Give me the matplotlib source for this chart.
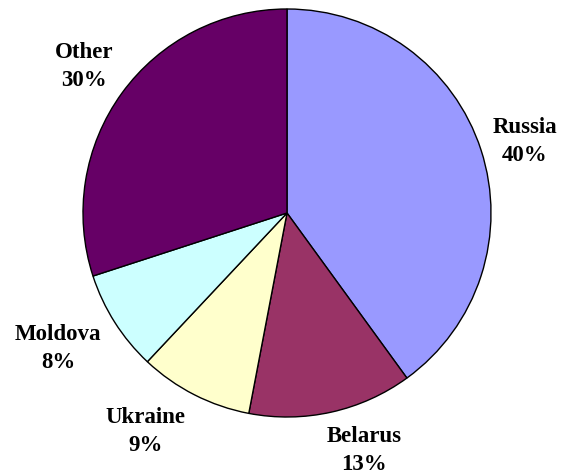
import numpy as np
import matplotlib.pyplot as plt

# Share of the total by country
countries = ["Russia", "Belarus", "Ukraine", "Moldova", "Other"]
shares = [40, 13, 9, 8, 30]
colors = ["#9999FF", "#993366", "#FFFFCC", "#CCFFFF", "#660066"]

labels = [f"{c}\n{s}%" for c, s in zip(countries, shares)]

# label placement: radial distance and angular nudge (degrees) per slice
label_dist = [1.22, 1.22, 1.27, 1.30, 1.23]
label_nudge = [-1, 5.5, -6, -2, 0]

plt.rcParams["font.family"] = ["Liberation Serif", "DejaVu Serif"]

fig = plt.figure(figsize=(5.63, 4.77), dpi=100)
r_px = 204
ax = fig.add_axes([(287 - r_px) / 563, 1 - (214 + r_px) / 477,
                   2 * r_px / 563, 2 * r_px / 477])

wedges, texts = ax.pie(shares, labels=labels, colors=colors, startangle=90,
                       counterclock=False,
                       wedgeprops=dict(edgecolor="black", linewidth=1.0),
                       textprops=dict(fontsize=16.5, fontweight="bold", ha="center",
                                      va="center", linespacing=1.45))
for w, t, d, n in zip(wedges, texts, label_dist, label_nudge):
    ang = np.deg2rad((w.theta1 + w.theta2) / 2 + n)
    t.set_position((d * np.cos(ang), d * np.sin(ang)))

ax.set_xlim(-1, 1)
ax.set_ylim(-1, 1)
ax.set_aspect("auto")

fig.savefig("out.png", dpi=100)
